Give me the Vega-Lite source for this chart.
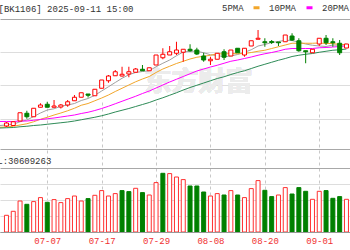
{
  "$schema": "https://vega.github.io/schema/vega-lite/v6.json",
  "width": 350,
  "height": 213,
  "autosize": {"type": "none"},
  "padding": {"left": 0, "top": 19, "right": 0, "bottom": 18},
  "background": "#ffffff",
  "config": {"view": {"stroke": null}, "font": "Liberation Mono"},
  "data": {"values": [
    {"i":1,"d":"06-26","5PMA":1094,"10PMA":1087,"20PMA":1110,"30PMA":1084},
    {"i":2,"d":"06-27","o":1092,"h":1108,"l":1088,"c":1104,"v":16700000,"vup":1,"5PMA":1096,"10PMA":1088,"20PMA":1110,"30PMA":1085},
    {"i":3,"d":"06-30","o":1094,"h":1112,"l":1092,"c":1109,"v":20700000,"vup":1,"5PMA":1099,"10PMA":1091,"20PMA":1110,"30PMA":1086},
    {"i":4,"d":"07-01","o":1112,"h":1145,"l":1112,"c":1145,"v":31000000,"vup":1,"5PMA":1109,"10PMA":1096,"20PMA":1112,"30PMA":1089},
    {"i":5,"d":"07-02","o":1143,"h":1153,"l":1121,"c":1129,"v":27700000,"vup":0,"5PMA":1116,"10PMA":1101,"20PMA":1112,"30PMA":1091},
    {"i":6,"d":"07-03","o":1129,"h":1163,"l":1129,"c":1163,"v":30400000,"vup":1,"5PMA":1130,"10PMA":1109,"20PMA":1115,"30PMA":1094},
    {"i":7,"d":"07-04","o":1167,"h":1183,"l":1167,"c":1176,"v":34400000,"vup":1,"5PMA":1144,"10PMA":1119,"20PMA":1118,"30PMA":1096},
    {"i":8,"d":"07-07","o":1179,"h":1189,"l":1167,"c":1167,"v":29700000,"vup":0,"5PMA":1156,"10PMA":1127,"20PMA":1121,"30PMA":1099},
    {"i":9,"d":"07-08","o":1167,"h":1196,"l":1167,"c":1172,"v":32400000,"vup":1,"5PMA":1161,"10PMA":1136,"20PMA":1124,"30PMA":1102},
    {"i":10,"d":"07-09","o":1168,"h":1180,"l":1162,"c":1176,"v":29400000,"vup":1,"5PMA":1171,"10PMA":1144,"20PMA":1128,"30PMA":1105},
    {"i":11,"d":"07-10","o":1176,"h":1196,"l":1169,"c":1189,"v":33400000,"vup":1,"5PMA":1176,"10PMA":1153,"20PMA":1132,"30PMA":1108},
    {"i":12,"d":"07-11","o":1193,"h":1216,"l":1193,"c":1207,"v":36000000,"vup":1,"5PMA":1182,"10PMA":1163,"20PMA":1136,"30PMA":1112},
    {"i":13,"d":"07-14","o":1207,"h":1225,"l":1207,"c":1225,"v":31000000,"vup":1,"5PMA":1194,"10PMA":1175,"20PMA":1142,"30PMA":1117},
    {"i":14,"d":"07-15","o":1220,"h":1220,"l":1206,"c":1215,"v":33400000,"vup":0,"5PMA":1202,"10PMA":1182,"20PMA":1147,"30PMA":1122},
    {"i":15,"d":"07-16","o":1213,"h":1239,"l":1213,"c":1239,"v":36700000,"vup":1,"5PMA":1215,"10PMA":1193,"20PMA":1154,"30PMA":1127},
    {"i":16,"d":"07-17","o":1243,"h":1276,"l":1243,"c":1276,"v":41400000,"vup":1,"5PMA":1232,"10PMA":1204,"20PMA":1162,"30PMA":1133},
    {"i":17,"d":"07-18","o":1273,"h":1296,"l":1265,"c":1292,"v":36000000,"vup":1,"5PMA":1249,"10PMA":1216,"20PMA":1171,"30PMA":1140},
    {"i":18,"d":"07-21","o":1293,"h":1316,"l":1292,"c":1309,"v":38400000,"vup":1,"5PMA":1266,"10PMA":1230,"20PMA":1181,"30PMA":1148},
    {"i":19,"d":"07-22","o":1292,"h":1329,"l":1290,"c":1299,"v":41400000,"vup":0,"5PMA":1283,"10PMA":1243,"20PMA":1191,"30PMA":1155},
    {"i":20,"d":"07-23","o":1300,"h":1329,"l":1287,"c":1309,"v":40400000,"vup":0,"5PMA":1297,"10PMA":1256,"20PMA":1201,"30PMA":1162},
    {"i":21,"d":"07-24","o":1307,"h":1324,"l":1307,"c":1320,"v":43700000,"vup":1,"5PMA":1306,"10PMA":1269,"20PMA":1211,"30PMA":1170},
    {"i":22,"d":"07-25","o":1319,"h":1336,"l":1313,"c":1313,"v":39400000,"vup":0,"5PMA":1310,"10PMA":1280,"20PMA":1222,"30PMA":1178},
    {"i":23,"d":"07-28","o":1313,"h":1325,"l":1312,"c":1325,"v":37000000,"vup":1,"5PMA":1313,"10PMA":1290,"20PMA":1232,"30PMA":1186},
    {"i":24,"d":"07-29","o":1336,"h":1376,"l":1336,"c":1376,"v":49400000,"vup":1,"5PMA":1329,"10PMA":1306,"20PMA":1244,"30PMA":1196},
    {"i":25,"d":"07-30","o":1365,"h":1403,"l":1359,"c":1379,"v":58700000,"vup":0,"5PMA":1343,"10PMA":1320,"20PMA":1256,"30PMA":1205},
    {"i":26,"d":"07-31","o":1376,"h":1412,"l":1376,"c":1389,"v":58400000,"vup":1,"5PMA":1356,"10PMA":1331,"20PMA":1268,"30PMA":1215},
    {"i":27,"d":"08-01","o":1383,"h":1429,"l":1376,"c":1396,"v":55000000,"vup":1,"5PMA":1373,"10PMA":1342,"20PMA":1279,"30PMA":1225},
    {"i":28,"d":"08-04","o":1387,"h":1399,"l":1349,"c":1399,"v":52400000,"vup":1,"5PMA":1388,"10PMA":1351,"20PMA":1290,"30PMA":1236},
    {"i":29,"d":"08-05","o":1399,"h":1419,"l":1389,"c":1393,"v":46000000,"vup":0,"5PMA":1391,"10PMA":1360,"20PMA":1301,"30PMA":1246},
    {"i":30,"d":"08-06","o":1396,"h":1405,"l":1376,"c":1380,"v":46000000,"vup":0,"5PMA":1391,"10PMA":1367,"20PMA":1312,"30PMA":1255},
    {"i":31,"d":"08-07","o":1372,"h":1385,"l":1349,"c":1356,"v":40000000,"vup":0,"5PMA":1385,"10PMA":1371,"20PMA":1320,"30PMA":1264},
    {"i":32,"d":"08-08","o":1353,"h":1369,"l":1336,"c":1359,"v":36000000,"vup":1,"5PMA":1377,"10PMA":1375,"20PMA":1328,"30PMA":1273},
    {"i":33,"d":"08-11","o":1359,"h":1383,"l":1359,"c":1383,"v":38400000,"vup":1,"5PMA":1374,"10PMA":1381,"20PMA":1335,"30PMA":1282},
    {"i":34,"d":"08-12","o":1389,"h":1399,"l":1356,"c":1367,"v":37000000,"vup":0,"5PMA":1369,"10PMA":1380,"20PMA":1343,"30PMA":1289},
    {"i":35,"d":"08-13","o":1372,"h":1396,"l":1372,"c":1396,"v":41400000,"vup":1,"5PMA":1372,"10PMA":1382,"20PMA":1351,"30PMA":1298},
    {"i":36,"d":"08-14","o":1403,"h":1403,"l":1385,"c":1385,"v":37000000,"vup":0,"5PMA":1378,"10PMA":1381,"20PMA":1356,"30PMA":1306},
    {"i":37,"d":"08-15","o":1376,"h":1403,"l":1369,"c":1403,"v":34400000,"vup":1,"5PMA":1387,"10PMA":1382,"20PMA":1362,"30PMA":1313},
    {"i":38,"d":"08-18","o":1412,"h":1433,"l":1412,"c":1433,"v":43400000,"vup":1,"5PMA":1397,"10PMA":1386,"20PMA":1368,"30PMA":1322},
    {"i":39,"d":"08-19","o":1439,"h":1476,"l":1439,"c":1443,"v":51400000,"vup":1,"5PMA":1412,"10PMA":1391,"20PMA":1375,"30PMA":1331},
    {"i":40,"d":"08-20","o":1429,"h":1443,"l":1409,"c":1425,"v":41700000,"vup":0,"5PMA":1418,"10PMA":1395,"20PMA":1381,"30PMA":1339},
    {"i":41,"d":"08-21","o":1430,"h":1436,"l":1420,"c":1426,"v":35400000,"vup":0,"5PMA":1426,"10PMA":1402,"20PMA":1386,"30PMA":1347},
    {"i":42,"d":"08-22","o":1428,"h":1428,"l":1412,"c":1425,"v":37000000,"vup":1,"5PMA":1430,"10PMA":1409,"20PMA":1392,"30PMA":1355},
    {"i":43,"d":"08-25","o":1429,"h":1456,"l":1429,"c":1456,"v":44400000,"vup":1,"5PMA":1435,"10PMA":1416,"20PMA":1399,"30PMA":1362},
    {"i":44,"d":"08-26","o":1452,"h":1463,"l":1432,"c":1436,"v":38000000,"vup":0,"5PMA":1434,"10PMA":1423,"20PMA":1402,"30PMA":1370},
    {"i":45,"d":"08-27","o":1433,"h":1443,"l":1389,"c":1393,"v":44400000,"vup":0,"5PMA":1427,"10PMA":1423,"20PMA":1402,"30PMA":1375},
    {"i":46,"d":"08-28","o":1393,"h":1393,"l":1343,"c":1389,"v":40700000,"vup":0,"5PMA":1420,"10PMA":1423,"20PMA":1402,"30PMA":1379},
    {"i":47,"d":"08-29","o":1385,"h":1399,"l":1385,"c":1399,"v":32700000,"vup":1,"5PMA":1415,"10PMA":1423,"20PMA":1402,"30PMA":1382},
    {"i":48,"d":"09-01","o":1420,"h":1443,"l":1412,"c":1443,"v":40700000,"vup":1,"5PMA":1412,"10PMA":1424,"20PMA":1405,"30PMA":1387},
    {"i":49,"d":"09-02","o":1443,"h":1456,"l":1416,"c":1425,"v":41400000,"vup":0,"5PMA":1410,"10PMA":1422,"20PMA":1406,"30PMA":1391},
    {"i":50,"d":"09-03","o":1429,"h":1443,"l":1409,"c":1425,"v":33700000,"vup":0,"5PMA":1416,"10PMA":1422,"20PMA":1408,"30PMA":1395},
    {"i":51,"d":"09-04","o":1423,"h":1436,"l":1376,"c":1385,"v":35400000,"vup":0,"5PMA":1415,"10PMA":1418,"20PMA":1410,"30PMA":1397},
    {"i":52,"d":"09-05","o":1404,"h":1420,"l":1404,"c":1420,"v":32700000,"vup":1,"5PMA":1420,"10PMA":1417,"20PMA":1413,"30PMA":1400}
  ]},
  "layer": [
    {
      "layer": [
        {
          "mark": {"type": "text", "text": "东方财富", "font": "Noto Sans CJK SC", "fontSize": 27, "fontWeight": "bold", "color": "#ececec", "align": "right", "baseline": "middle"},
          "encoding": {
            "x": {"datum": 38.2, "type": "quantitative", "scale": {"domain": [1.7857, 51.7857], "nice": false, "zero": false},
              "axis": {"values": [8, 16, 24, 32, 40, 48], "title": null, "grid": true, "gridDash": [3, 3], "gridColor": "#c8c8c8", "ticks": false, "domain": true, "domainColor": "#999999", "labelColor": "#f03030", "labelFont": "Liberation Mono", "labelFontSize": 9, "labelPadding": 4,
                "labelExpr": "datum.value == 8 ? '07-07' : datum.value == 16 ? '07-17' : datum.value == 24 ? '07-29' : datum.value == 32 ? '08-08' : datum.value == 40 ? '08-20' : datum.value == 48 ? '09-01' : ''"}},
            "y": {"datum": 1264, "type": "quantitative", "scale": {"domain": [1000, 1520], "range": [130, 0], "nice": false, "zero": false},
              "axis": {"values": [1000, 1058, 1122, 1190, 1258, 1322, 1390, 1454, 1520], "labels": false, "ticks": false, "domain": false, "grid": true,
                "gridColor": {"condition": {"test": "datum.value == 1000 || datum.value == 1520", "value": "#a8a8a8"}, "value": "#dddddd"},
                "title": "[BK1106] 2025-09-11 15:00", "titleAngle": 0, "titleAlign": "left", "titleBaseline": "middle", "titleX": -2, "titleY": -11, "titleFont": "Liberation Mono", "titleFontSize": 9, "titleFontWeight": "normal", "titleColor": "#333333"}}
          }
        },
        {
          "transform": [{"fold": ["5PMA", "10PMA", "20PMA", "30PMA"], "as": ["ma", "val"]}],
          "mark": {"type": "line", "strokeWidth": 1, "clip": true},
          "encoding": {
            "x": {"field": "i", "type": "quantitative"},
            "y": {"field": "val", "type": "quantitative"},
            "color": {"field": "ma", "type": "nominal", "sort": ["5PMA", "10PMA", "20PMA", "30PMA"],
              "scale": {"domain": ["5PMA", "10PMA", "20PMA", "30PMA"], "range": ["#a0a0a0", "#f2a62a", "#ff00ff", "#2e8b57"]},
              "legend": {"orient": "none", "legendX": 205, "legendY": -16, "direction": "horizontal", "title": null, "symbolType": "stroke", "symbolSize": 36, "symbolStrokeWidth": 3, "labelOffset": 8, "columnPadding": 3, "padding": 0, "labelFont": "Liberation Mono", "labelFontSize": 9, "labelColor": "#333333",
                "encode": {"symbols": {"update": {
                  "opacity": {"signal": "datum.value == '5PMA' ? 0 : 1"},
                  "stroke": {"signal": "datum.value == '10PMA' ? '#a0a0a0' : datum.value == '20PMA' ? '#f2a62a' : '#ff00ff'"}}}}}}
          }
        },
        {
          "mark": {"type": "rule", "strokeWidth": 1, "clip": true},
          "encoding": {
            "x": {"field": "i", "type": "quantitative"},
            "y": {"field": "l", "type": "quantitative"},
            "y2": {"field": "h"},
            "color": {"condition": {"test": "datum.c >= datum.o", "value": "#ff0000"}, "value": "#008000"}
          }
        },
        {
          "mark": {"type": "bar", "width": 4, "strokeWidth": 1, "clip": true},
          "encoding": {
            "x": {"field": "i", "type": "quantitative"},
            "y": {"field": "o", "type": "quantitative"},
            "y2": {"field": "c"},
            "fill": {"condition": {"test": "datum.c >= datum.o", "value": "#ffffff"}, "value": "#008000"},
            "stroke": {"condition": {"test": "datum.c >= datum.o", "value": "#ff0000"}, "value": "#008000"}
          }
        }
      ]
    },
    {
      "mark": {"type": "bar", "width": 4, "strokeWidth": 1, "clip": true},
      "encoding": {
        "x": {"field": "i", "type": "quantitative"},
        "y": {"field": "v", "type": "quantitative", "scale": {"domain": [0, 64000000], "range": [213, 149], "nice": false, "zero": true},
          "axis": {"values": [0, 16000000, 32000000, 48000000, 64000000], "labels": false, "ticks": false, "domain": false, "grid": true,
            "gridColor": {"condition": {"test": "datum.value == 0 || datum.value == 64000000", "value": "#a8a8a8"}, "value": "#dddddd"},
            "title": "VOL:30609263", "titleAngle": 0, "titleAlign": "left", "titleBaseline": "middle", "titleX": -364, "titleY": 141, "titleFont": "Liberation Mono", "titleFontSize": 9, "titleFontWeight": "normal", "titleColor": "#333333"}},
        "fill": {"condition": {"test": "datum.vup == 1", "value": "#ffffff"}, "value": "#008000"},
        "stroke": {"condition": {"test": "datum.vup == 1", "value": "#ff3030"}, "value": "#008000"}
      }
    }
  ],
  "resolve": {"scale": {"y": "independent"}, "axis": {"y": "independent"}}
}
